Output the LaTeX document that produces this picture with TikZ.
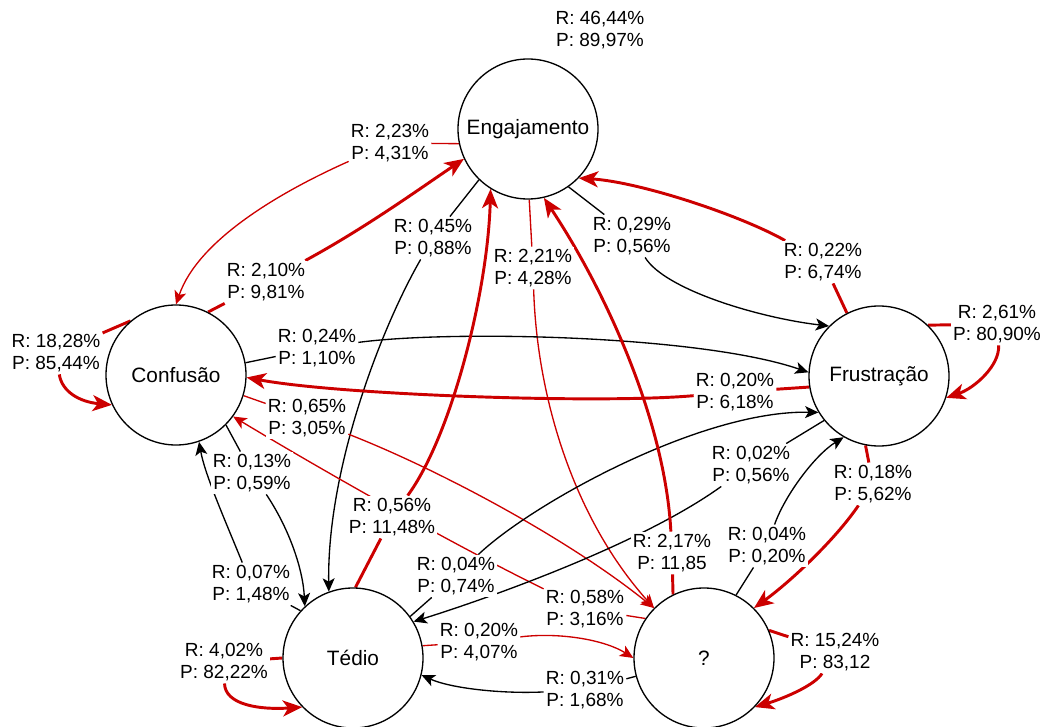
\documentclass[tikz,border=0pt]{standalone}
\usepackage{fontspec}
\setmainfont{Liberation Sans}
\usetikzlibrary{arrows.meta}
\pgfdeclarelayer{edges}
\pgfsetlayers{edges,main}
\definecolor{rd}{HTML}{CC0000}
\begin{document}
\begin{tikzpicture}[x=0.75pt,y=-0.75pt,
  state/.style={circle,draw,line width=1pt,fill=white,minimum size=105pt,inner sep=0pt,font=\fontsize{15.6}{18}\selectfont},
  lab/.style={fill=white,inner sep=1.5pt,align=center,font=\fontsize{14.25}{17}\selectfont},
  blkarr/.style={line width=1pt,color=black,-{Stealth[length=10pt,width=9pt,inset=2.5pt]}},
  redthin/.style={line width=1pt,color=rd,-{Stealth[length=10pt,width=9pt,inset=2.5pt]}},
  redthick/.style={line width=2.2pt,color=rd,-{Stealth[length=14.5pt,width=12pt,inset=4pt]}}]
\useasboundingbox (0,0) rectangle (1046,727);

% states
\node[state] (eng) at (528,129) {Engajamento};
\node[state] (con) at (176,375) {Confusão};
\node[state] (fru) at (879,376) {Frustração};
\node[state] (ted) at (353,658) {Tédio};
\node[state] (q)   at (704,658) {?};

% labels
\node[lab] (L0)  at (600,30)  {R: 46,44\%\\P: 89,97\%};
\node[lab] (L1)  at (390,143) {R: 2,23\%\\P: 4,31\%};
\node[lab] (L2)  at (266,282) {R: 2,10\%\\P: 9,81\%};
\node[lab] (L3)  at (56,353)  {R: 18,28\%\\P: 85,44\%};
\node[lab] (L4)  at (433,238) {R: 0,45\%\\P: 0,88\%};
\node[lab] (L5)  at (533,268) {R: 2,21\%\\P: 4,28\%};
\node[lab] (L6)  at (632,236) {R: 0,29\%\\P: 0,56\%};
\node[lab] (L7)  at (823,262) {R: 0,22\%\\P: 6,74\%};
\node[lab] (L8)  at (997,324) {R: 2,61\%\\P: 80,90\%};
\node[lab] (L9)  at (317,348) {R: 0,24\%\\P: 1,10\%};
\node[lab] (L10) at (735,392) {R: 0,20\%\\P: 6,18\%};
\node[lab] (L11) at (307,418) {R: 0,65\%\\P: 3,05\%};
\node[lab] (L12) at (585,609) {R: 0,58\%\\P: 3,16\%};
\node[lab] (L13) at (252,473) {R: 0,13\%\\P: 0,59\%};
\node[lab] (L14) at (251,584) {R: 0,07\%\\P: 1,48\%};
\node[lab] (L15) at (392,517) {R: 0,56\%\\P: 11,48\%};
\node[lab] (L16) at (456,576) {R: 0,04\%\\P: 0,74\%};
\node[lab] (L17) at (751,465) {R: 0,02\%\\P: 0,56\%};
\node[lab] (L18) at (672,553) {R: 2,17\%\\P: 11,85};
\node[lab] (L19) at (767,546) {R: 0,04\%\\P: 0,20\%};
\node[lab] (L20) at (873,484) {R: 0,18\%\\P: 5,62\%};
\node[lab] (L21) at (835,652) {R: 15,24\%\\P: 83,12};
\node[lab] (L22) at (479,642) {R: 0,20\%\\P: 4,07\%};
\node[lab] (L23) at (585,690) {R: 0,31\%\\P: 1,68\%};
\node[lab] (L24) at (224,662) {R: 4,02\%\\P: 82,22\%};

\begin{pgfonlayer}{edges}
% Engajamento -> Confusao
\draw[redthin] (eng.192) -- (L1) .. controls (280,192) and (198,240) .. (con.90);
% Confusao -> Engajamento
\draw[redthick] (con.63) -- (L2) .. controls (365,228) and (415,192) .. (eng.205);
% Confusao loop
\draw[redthick] (con.130) -- (L3) .. controls (62,392) and (80,402) .. (con.205);
% Engajamento -> Tedio
\draw[blkarr] (eng.226) -- (L4) .. controls (380,330) and (327,470) .. (ted.110);
% Engajamento -> ?
\draw[redthin] (eng.271) -- (L5) .. controls (537,400) and (575,520) .. (q.135);
% Engajamento -> Frustracao
\draw[blkarr] (eng.305) -- (L6) .. controls (665,290) and (760,318) .. (fru.135);
% Frustracao -> Engajamento
\draw[redthick] (fru.117) -- (L7) .. controls (740,215) and (640,182) .. (eng.316);
% Frustracao loop
\draw[redthick] (fru.46) -- (L8) .. controls (1000,365) and (975,388) .. (fru.342);
% Confusao -> Frustracao
\draw[blkarr] (con.10) -- (L9) .. controls (450,330) and (700,335) .. (fru.177);
% Frustracao -> Confusao
\draw[redthick] (fru.189) -- (L10) .. controls (600,404) and (340,395) .. (con.358);
% Confusao -> ?
\draw[redthin] (con.343) -- (L11) .. controls (440,470) and (570,540) .. (q.135);
% ? -> Confusao
\draw[redthin] (q.146) -- (L12) .. controls (460,548) and (330,475) .. (con.324);
% Confusao -> Tedio
\draw[blkarr] (con.315) -- (L13) .. controls (290,530) and (303,570) .. (ted.133);
% Tedio -> Confusao
\draw[blkarr] (ted.138) -- (L14) .. controls (225,520) and (205,475) .. (con.289);
% Tedio -> Engajamento
\draw[redthick] (ted.88) -- (L15) .. controls (452,435) and (488,290) .. (eng.238);
% Tedio -> Frustracao
\draw[blkarr] (ted.36) -- (L16) .. controls (530,505) and (700,410) .. (fru.211);
% Frustracao -> Tedio
\draw[blkarr] (fru.219) -- (L17) .. controls (640,545) and (486,599) .. (ted.31);
% ? -> Engajamento
\draw[redthick] (q.116) -- (L18) .. controls (665,420) and (605,290) .. (eng.283);
% ? -> Frustracao
\draw[blkarr] (q.63) -- (L19) .. controls (785,495) and (815,455) .. (fru.240);
% Frustracao -> ?
\draw[redthick] (fru.259) -- (L20) .. controls (835,540) and (790,582) .. (q.45);
% ? loop
\draw[redthick] (q.23) -- (L21) .. controls (815,685) and (785,698) .. (q.316);
% Tedio -> ?
\draw[redthin] (ted.10) -- (L22) .. controls (560,632) and (605,640) .. (q.180);
% ? -> Tedio
\draw[blkarr] (q.195) -- (L23) .. controls (500,694) and (450,688) .. (ted.346);
% Tedio loop
\draw[redthick] (ted.180) -- (L24) .. controls (225,705) and (260,710) .. (ted.224);
\end{pgfonlayer}
\end{tikzpicture}
\end{document}
